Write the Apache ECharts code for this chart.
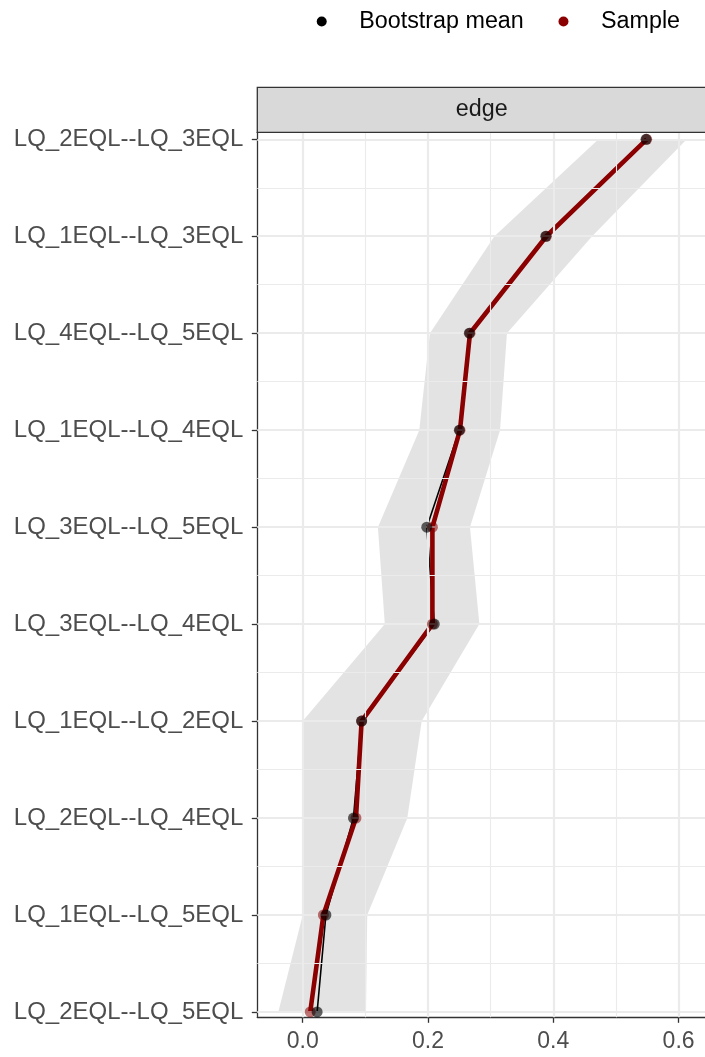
<!DOCTYPE html>
<html>
<head>
<meta charset="utf-8">
<script src="https://cdn.jsdelivr.net/npm/echarts@6/dist/echarts.min.js"></script>
<style>
  html, body { margin: 0; padding: 0; background: #ffffff; }
  #chart { width: 705px; height: 1057px; }
</style>
</head>
<body>
<div id="chart"></div>
<script>
// Edge weights: sample estimate, bootstrap mean and bootstrap CI band
const categories = [
  'LQ_2EQL--LQ_3EQL', 'LQ_1EQL--LQ_3EQL', 'LQ_4EQL--LQ_5EQL', 'LQ_1EQL--LQ_4EQL',
  'LQ_3EQL--LQ_5EQL', 'LQ_3EQL--LQ_4EQL', 'LQ_1EQL--LQ_2EQL', 'LQ_2EQL--LQ_4EQL',
  'LQ_1EQL--LQ_5EQL', 'LQ_2EQL--LQ_5EQL'
];
const sample   = [0.549, 0.389, 0.267, 0.251, 0.207, 0.207, 0.094, 0.085, 0.033, 0.012];
const bootMean = [0.548, 0.388, 0.266, 0.250, 0.198, 0.210, 0.094, 0.081, 0.037, 0.023];
const ciLower  = [0.472, 0.306, 0.203, 0.186, 0.120, 0.131, 0.000, 0.000, 0.000, -0.039];
const ciUpper  = [0.613, 0.462, 0.326, 0.315, 0.267, 0.282, 0.190, 0.167, 0.103, 0.101];
const xTicks = [0, 0.2, 0.4, 0.6];
const xMinor = [0.1, 0.3, 0.5];
const yTicks = categories.map((c, i) => i);
const yMinor = categories.slice(1).map((c, i) => i + 0.5);

const FONT = 'Liberation Sans, Arial, sans-serif';
const GRID = { left: 257.3, top: 132.3, width: 449, height: 885 };

const chart = echarts.init(document.getElementById('chart'), null, { renderer: 'canvas' });

const gridLines = []
  .concat(xTicks.map(v => ({ xAxis: v, lineStyle: { color: '#EBEBEB', width: 2.2, type: 'solid' } })))
  .concat(xMinor.map(v => ({ xAxis: v, lineStyle: { color: '#EBEBEB', width: 1.1, type: 'solid' } })))
  .concat(yTicks.map(v => ({ yAxis: v, lineStyle: { color: '#EBEBEB', width: 2.2, type: 'solid' } })))
  .concat(yMinor.map(v => ({ yAxis: v, lineStyle: { color: '#EBEBEB', width: 1.1, type: 'solid' } })));

const sampleData = categories.map((c, i) => [sample[i], i]);
const meanData = categories.map((c, i) => [bootMean[i], i]);
const bandData = categories.map((c, i) => [ciLower[i], ciUpper[i], i]);

chart.setOption({
  animation: false,
  backgroundColor: '#ffffff',
  grid: Object.assign({ containLabel: false, outerBoundsMode: 'none' }, GRID),
  legend: {
    data: [
      { name: 'Bootstrap mean', itemStyle: { color: '#000000', opacity: 1 } },
      { name: 'Sample', itemStyle: { color: '#8B0000', opacity: 1 } }
    ],
    icon: 'circle',
    itemWidth: 10,
    itemHeight: 10,
    padding: 0,
    left: 316.7,
    top: 10,
    itemGap: 34.7,
    selectedMode: false,
    textStyle: { fontSize: 23.3, color: '#000000', fontFamily: FONT, padding: [0, 0, 0, 27.6] }
  },
  xAxis: {
    type: 'value',
    min: -0.0725,
    max: 0.6442,
    position: 'bottom',
    axisLine: { show: true, onZero: false, lineStyle: { color: '#333333', width: 1.3 } },
    axisTick: { show: true, customValues: xTicks, length: 5.5, lineStyle: { color: '#333333', width: 1.3 } },
    axisLabel: {
      customValues: xTicks,
      formatter: v => v.toFixed(1),
      fontSize: 23, color: '#4D4D4D', fontFamily: FONT, margin: 13
    },
    splitLine: { show: false }
  },
  yAxis: {
    type: 'value',
    inverse: true,
    min: -0.072,
    max: 9.055,
    axisLine: { show: true, onZero: false, lineStyle: { color: '#333333', width: 1.3 } },
    axisTick: { show: true, customValues: yTicks, length: 5.5, lineStyle: { color: '#333333', width: 1.3 } },
    axisLabel: {
      customValues: yTicks,
      formatter: v => categories[Math.round(v)],
      fontSize: 24, color: '#4D4D4D', fontFamily: FONT, margin: 14
    },
    splitLine: { show: false }
  },
  graphic: [
    {
      type: 'rect',
      shape: { x: 257.3, y: 87.3, width: 470, height: 45 },
      style: { fill: '#D9D9D9', stroke: '#333333', lineWidth: 1.3 },
      z: 10
    },
    {
      type: 'text',
      x: 481.7, y: 110,
      style: { text: 'edge', fontSize: 23.3, fontFamily: FONT, fill: '#1A1A1A', align: 'center', verticalAlign: 'middle' },
      z: 11
    }
  ],
  series: [
    {
      // panel grid lines
      name: 'grid',
      type: 'line',
      data: sampleData,
      symbol: 'none',
      lineStyle: { opacity: 0 },
      silent: true,
      z: 1,
      markLine: {
        silent: true,
        symbol: ['none', 'none'],
        label: { show: false },
        emphasis: { disabled: true },
        data: gridLines
      }
    },
    {
      // bootstrap CI ribbon
      name: 'CI',
      type: 'custom',
      data: bandData,
      encode: { x: [0, 1], y: 2 },
      z: 2,
      silent: true,
      renderItem: function (params, api) {
        if (params.dataIndex !== 0) return null;
        const pts = [];
        for (let i = 0; i < categories.length; i++) pts.push(api.coord([ciUpper[i], i]));
        for (let i = categories.length - 1; i >= 0; i--) pts.push(api.coord([ciLower[i], i]));
        return { type: 'polygon', shape: { points: pts }, style: { fill: 'rgba(0,0,0,0.11)' } };
      }
    },
    {
      name: 'meanLine',
      type: 'line',
      data: meanData,
      symbol: 'none',
      lineStyle: { color: '#000000', width: 1.6 },
      z: 3
    },
    {
      name: 'sampleLine',
      type: 'line',
      data: sampleData,
      symbol: 'none',
      lineStyle: { color: '#8B0000', width: 4.6 },
      z: 4
    },
    {
      name: 'Sample',
      type: 'scatter',
      data: sampleData,
      symbolSize: 11,
      itemStyle: { color: '#8B0000', opacity: 0.55 },
      z: 5
    },
    {
      name: 'Bootstrap mean',
      type: 'scatter',
      data: meanData,
      symbolSize: 11,
      itemStyle: { color: '#000000', opacity: 0.62 },
      z: 6
    }
  ]
});
</script>
</body>
</html>
